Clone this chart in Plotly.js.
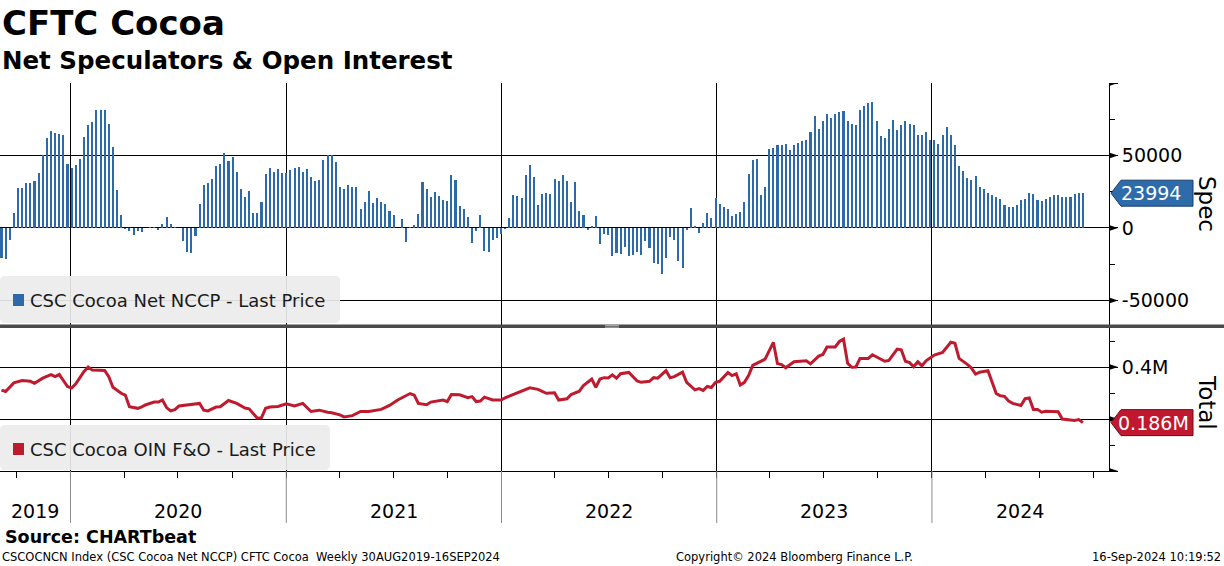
<!DOCTYPE html>
<html><head><meta charset="utf-8">
<script src="https://cdn.plot.ly/plotly-3.0.1.min.js"></script>
<style>html,body{margin:0;padding:0;background:#fff;}#chart{width:1224px;height:566px;}</style>
</head><body><div id="chart"></div>
<script>
// ---------------- DATA ----------------
const firstWeek = '2019-09-06';           // weekly (Friday) release dates
const specValues = [
-20900,-21600,-8000,10100,27700,27700,31200,31200,32600,38000,
50200,62400,67200,65600,64900,63800,43800,41700,43600,47700,
62600,71100,73200,81400,81400,81400,71800,56000,26400,9200,
-900,-2300,-5000,-2300,-3000,300,700,700,-1600,3000,
7800,3000,700,200,-9200,
-16700,-17400,-5700,16700,29800,31200,33900,42900,44300,51800,
46300,49100,38800,27100,21600,25700,10600,10600,18100,37400,
41500,38800,40800,38100,38100,40100,41500,42200,38800,40800,
35300,32600,33300,47000,50500,50500,45600,28400,27100,29800,
28400,28400,13300,18100,25700,
17400,20900,18100,16700,11900,9200,300,6400,-9900,900,
2300,9900,31900,27100,21600,25000,22200,19500,18800,36700,
33300,15400,13300,7800,-10600,-2300,9200,-16100,-16700,-8500,
-7100,-4400,-900,7100,22900,22200,20900,36700,43600,35300,
16100,23600,24300,23600,33900,
32600,36700,32600,18100,31900,11900,9200,-1600,1600,8500,
-11200,-4400,-5000,-19500,-17400,-18100,-13300,-19500,-18800,-16700,
-18800,-9200,-14000,-24300,-25000,-31900,-20900,-6400,-8500,-22900,
-27700,-1600,14000,1600,-3700,3700,10600,7100,20900,16700,
14700,13300,8500,9900,
11200,18100,37400,47000,47700,22900,28400,54600,55300,57300,
57300,58000,53900,57300,58700,60100,60800,66300,77300,68300,
73900,78700,75900,78700,80000,80700,73900,71800,71100,81400,
84200,86200,86900,73900,63500,62200,68300,74500,67700,71100,
73900,71800,71100,64200,64200,
66300,60800,60800,58000,64200,69700,64200,57300,42900,39400,
34600,33300,36000,28400,27100,24300,22900,21600,20200,16100,
14700,14700,16100,19500,20200,24300,23600,19500,18800,20200,
21600,22900,22900,21600,21600,21600,23600,24300,23994
];
// open interest, read at selected weeks (week index from firstWeek)
const oiWeeks = [0,1,3,4,5,7,8,10,12,13,14,15,16,17,18,20,21,22,25,26,27,29,30,31,33,34,35,37,38,39,40,41,42,43,45,46,48,49,50,52,53,55,57,59,60,62,63,64,65,67,68,69,71,73,75,77,79,80,82,83,85,87,89,92,94,96,99,100,101,103,104,106,107,108,109,111,113,114,115,116,117,119,121,122,124,126,128,130,131,132,134,135,137,138,140,141,143,144,145,146,147,148,149,150,152,154,155,157,158,159,161,162,163,165,166,168,169,170,171,172,173,174,176,177,178,179,180,181,182,184,185,187,188,189,190,192,194,195,196,198,199,200,202,203,204,205,206,207,208,210,211,212,214,215,217,218,219,220,221,222,223,224,225,226,228,229,230,231,232,234,235,236,237,239,240,241,242,243,244,245,247,248,249,250,251,252,253,255,256,257,259,260,261,262];
const oiValues = [311000,306000,339000,344000,348000,345000,337000,357000,371000,363000,371000,348000,325000,319000,335000,383000,400000,388000,387000,363000,322000,299000,292000,247000,241000,247000,255000,265000,265000,273000,244000,231000,236000,250000,255000,255000,260000,234000,231000,246000,247000,271000,260000,242000,239000,203000,205000,241000,246000,248000,252000,258000,250000,260000,229000,234000,226000,224000,216000,208000,213000,229000,229000,237000,252000,273000,298000,292000,260000,255000,265000,269000,273000,267000,294000,293000,282000,286000,267000,269000,284000,273000,273000,281000,294000,305000,320000,314000,305000,299000,301000,273000,278000,294000,307000,329000,354000,322000,354000,359000,358000,370000,357000,374000,379000,346000,341000,345000,359000,357000,386000,359000,363000,380000,341000,312000,317000,310000,325000,321000,341000,345000,379000,367000,374000,331000,341000,367000,406000,420000,430000,495000,413000,409000,397000,420000,424000,424000,412000,442000,448000,477000,477000,498000,507000,414000,399000,400000,433000,433000,447000,438000,422000,425000,469000,466000,422000,417000,401000,420000,405000,424000,435000,446000,456000,477000,495000,491000,433000,410000,396000,373000,380000,386000,341000,298000,289000,287000,269000,260000,252000,278000,281000,237000,237000,226000,230000,230000,228000,200000,195000,194000,198000,186000];
const seriesNames = ['CSC Cocoa Net NCCP - Last Price', 'CSC Cocoa OIN F&O - Last Price'];
const panelNames = ['Spec', 'Total'];
const yearLabels = ['2019','2020','2021','2022','2023','2024'];
const yearStarts = ['2020-01-01','2021-01-01','2022-01-01','2023-01-01','2024-01-01'];
const specTickVals = [-50000, 0, 50000, 100000];
const specTickText = ['-50000', '0', '50000', ''];
const oiTickVals = [0, 200000, 400000];
const oiTickText = ['', '', '0.4M'];

// ---------------- HELPERS ----------------
function weekDate(k){ const d = new Date(firstWeek + 'T00:00:00Z'); d.setUTCDate(d.getUTCDate() + 7*k); return d.toISOString().slice(0,10); }
const specDates = specValues.map((v,i) => weekDate(i));
const oiDates = oiWeeks.map(k => weekDate(k));

const W = 1224, H = 566, ML = 0, MR = 115, MT = 83, MB = 95;
const PW = W - ML - MR, PH = H - MT - MB;
const px = x => (x - ML) / PW;
const py = y => (H - MB - y) / PH;

const xRange = ['2019-09-03 12:00', '2024-10-27 06:00'];
const BLUE = '#2d6aa9', RED = '#bf1b2f';
const FONT = 'DejaVu Sans';

// quarterly minor ticks
const quarterTicks = [];
for (let y = 2019; y <= 2024; y++) for (const m of ['01','04','07','10']) quarterTicks.push(y + '-' + m + '-01');

// mid dates of visible year segments for labels
const bounds = [xRange[0]].concat(yearStarts).concat([xRange[1]]);
const yearMid = yearLabels.map((t,i) => { const a = new Date(bounds[i].replace(' ','T')+'Z').getTime(), b = new Date(bounds[i+1].replace(' ','T')+'Z').getTime(); return new Date((a+b)/2).toISOString().slice(0,10); });

const traces = [
  { type:'bar', x: specDates, y: specValues, xaxis:'x', yaxis:'y', name: seriesNames[0],
    marker:{color: BLUE, line:{width:0}}, width: 3.5*86400000, hoverinfo:'skip' },
  { type:'scatter', mode:'lines', x: oiDates, y: oiValues, xaxis:'x', yaxis:'y2', name: seriesNames[1],
    line:{color: RED, width: 3}, hoverinfo:'skip' }
];

const shapes = [];
const annotations = [];

// tick arrow heads
function arrow(yref, v){ shapes.push({type:'path', xref:'paper', yref: yref, xsizemode:'pixel', ysizemode:'pixel', xanchor:1, yanchor:v, path:'M 0 -3 L 9 0 L 0 3 Z', fillcolor:'#000', line:{width:0}}); }
specTickVals.forEach(v => arrow('y', v));
oiTickVals.forEach(v => arrow('y2', v));

// year separators in x-axis band
yearStarts.forEach(d => shapes.push({type:'line', xref:'x', yref:'paper', x0:d, x1:d, y0:py(471), y1:py(523), line:{color:'#8a8a8a', width:1}}));

// panel separator
shapes.push({type:'rect', xref:'paper', yref:'paper', x0:0, x1:W/PW, y0:py(328), y1:py(324.5), fillcolor:'#4a4a4a', line:{width:0}});
shapes.push({type:'line', xref:'paper', yref:'paper', x0:px(605), x1:px(619), y0:py(325.6), y1:py(325.6), line:{color:'#b0b0b0', width:1}});
shapes.push({type:'line', xref:'paper', yref:'paper', x0:px(605), x1:px(619), y0:py(327.2), y1:py(327.2), line:{color:'#b0b0b0', width:1}});

// legend boxes
function roundRect(x0,y0,x1,y1,r){
  const rx = r/PW, ry = r/PH;
  const X0=px(x0), X1=px(x1), Y0=py(y1), Y1=py(y0);
  return `M ${X0+rx} ${Y0} L ${X1-rx} ${Y0} Q ${X1} ${Y0} ${X1} ${Y0+ry} L ${X1} ${Y1-ry} Q ${X1} ${Y1} ${X1-rx} ${Y1} L ${X0+rx} ${Y1} Q ${X0} ${Y1} ${X0} ${Y1-ry} L ${X0} ${Y0+ry} Q ${X0} ${Y0} ${X0+rx} ${Y0} Z`;
}
shapes.push({type:'path', xref:'paper', yref:'paper', path: roundRect(0,276,340,323,5), fillcolor:'rgba(236,236,236,0.92)', line:{width:0}});
shapes.push({type:'path', xref:'paper', yref:'paper', path: roundRect(0,425,330,470,5), fillcolor:'rgba(236,236,236,0.92)', line:{width:0}});
shapes.push({type:'rect', xref:'paper', yref:'paper', x0:px(13), x1:px(24), y0:py(306), y1:py(294), fillcolor:BLUE, line:{width:0}});
shapes.push({type:'rect', xref:'paper', yref:'paper', x0:px(13), x1:px(24), y0:py(455), y1:py(443), fillcolor:RED, line:{width:0}});
annotations.push({xref:'paper', yref:'paper', x:px(28), y:py(300), xanchor:'left', yanchor:'middle', text: seriesNames[0], showarrow:false, font:{family:FONT, size:18, color:'#1a1a1a'}});
annotations.push({xref:'paper', yref:'paper', x:px(28), y:py(449), xanchor:'left', yanchor:'middle', text: seriesNames[1].replace('&','&amp;'), showarrow:false, font:{family:FONT, size:18, color:'#1a1a1a'}});

// last value labels
const lastSpec = specValues[specValues.length-1], lastOi = oiValues[oiValues.length-1];
const tagPath = 'M 2 0 L 12 13 L 84 13 L 84 -13 L 12 -13 Z';
shapes.push({type:'path', xref:'paper', yref:'y', xsizemode:'pixel', ysizemode:'pixel', xanchor:1, yanchor:lastSpec, path: tagPath, fillcolor:'#2e6bab', line:{color:'#1b3f6a', width:1}});
shapes.push({type:'path', xref:'paper', yref:'y2', xsizemode:'pixel', ysizemode:'pixel', xanchor:1, yanchor:lastOi, path: tagPath, fillcolor:'#c0182f', line:{color:'#6a0d19', width:1}});
annotations.push({xref:'paper', yref:'y', x:px(1151), y:lastSpec, xanchor:'center', yanchor:'middle', text:String(lastSpec), showarrow:false, font:{family:FONT, size:19, color:'#fff'}});
annotations.push({xref:'paper', yref:'y2', x:px(1153), y:lastOi, xanchor:'center', yanchor:'middle', text:(lastOi/1e6).toFixed(3)+'M', showarrow:false, font:{family:FONT, size:19, color:'#fff'}});

// panel names
annotations.push({xref:'paper', yref:'paper', x:px(1207), y:py(204), xanchor:'center', yanchor:'middle', text:panelNames[0], textangle:90, showarrow:false, font:{family:FONT, size:23, color:'#000'}});
annotations.push({xref:'paper', yref:'paper', x:px(1207), y:py(402), xanchor:'center', yanchor:'middle', text:panelNames[1], textangle:90, showarrow:false, font:{family:FONT, size:23, color:'#000'}});

// year labels
yearLabels.forEach((t,i) => annotations.push({xref:'x', yref:'paper', x:yearMid[i], y:py(511), xanchor:'center', yanchor:'middle', text:t, showarrow:false, font:{family:FONT, size:19, color:'#000'}}));

// subtitle & footer
annotations.push({xref:'paper', yref:'paper', x:px(0), y:py(60), xanchor:'left', yanchor:'middle', text:'Net Speculators &amp; Open Interest', showarrow:false, font:{family:FONT, size:24.5, weight:'bold', color:'#000'}});
annotations.push({xref:'paper', yref:'paper', x:px(3), y:py(537), xanchor:'left', yanchor:'middle', text:'Source: CHARTbeat', showarrow:false, font:{family:FONT, size:17.5, weight:'bold', color:'#000'}});
annotations.push({xref:'paper', yref:'paper', x:px(0), y:py(557), xanchor:'left', yanchor:'middle', text:'CSCOCNCN Index (CSC Cocoa Net NCCP) CFTC Cocoa\u00a0 Weekly 30AUG2019-16SEP2024', showarrow:false, font:{family:FONT, size:11.5, color:'#000'}});
annotations.push({xref:'paper', yref:'paper', x:px(794), y:py(557), xanchor:'center', yanchor:'middle', text:'Copyright\u00a9 2024 Bloomberg Finance L.P.', showarrow:false, font:{family:FONT, size:11.5, color:'#000'}});
annotations.push({xref:'paper', yref:'paper', x:px(1223), y:py(557), xanchor:'right', yanchor:'middle', text:'16-Sep-2024 10:19:52', showarrow:false, font:{family:FONT, size:11.5, color:'#000'}});

const layout = {
  width: W, height: H,
  margin: {l:ML, r:MR, t:MT, b:MB, pad:0},
  paper_bgcolor:'#fff', plot_bgcolor:'#fff',
  showlegend:false, bargap:0,
  font:{family:FONT, size:19, color:'#000'},
  title:{text:'CFTC Cocoa', xref:'container', yref:'container', x:2/W, xanchor:'left', y:1-23/H, yanchor:'middle',
         font:{family:FONT, size:34, weight:'bold', color:'#000'}},
  xaxis:{type:'date', range:xRange, anchor:'y2', tickmode:'array', tickvals:yearStarts, showticklabels:false, ticks:'',
         showgrid:true, gridcolor:'#000', gridwidth:1, showline:true, linecolor:'#000', linewidth:1, zeroline:false,
         minor:{tickmode:'array', tickvals:quarterTicks, ticks:'outside', ticklen:6, tickcolor:'#000', tickwidth:1, showgrid:false}},
  yaxis:{domain:[py(324.5),1], range:[-66600,100000], side:'right', anchor:'x', tickmode:'array', tickvals:specTickVals, ticktext:specTickText,
         ticks:'outside', ticklen:8, tickcolor:'#000', tickwidth:1, showgrid:true, gridcolor:'#000', gridwidth:1,
         showline:true, linecolor:'#000', linewidth:1, zeroline:false, tickfont:{family:FONT, size:19, color:'#000'},
         minor:{tickmode:'linear', tick0:0, dtick:25000, ticks:'outside', ticklen:5, tickcolor:'#000', showgrid:false}},
  yaxis2:{domain:[0,py(328)], range:[0,550000], side:'right', anchor:'x', tickmode:'array', tickvals:oiTickVals, ticktext:oiTickText,
         ticks:'outside', ticklen:8, tickcolor:'#000', tickwidth:1, showgrid:true, gridcolor:'#000', gridwidth:1,
         showline:true, linecolor:'#000', linewidth:1, zeroline:false, tickfont:{family:FONT, size:19, color:'#000'},
         minor:{tickmode:'linear', tick0:0, dtick:100000, ticks:'outside', ticklen:5, tickcolor:'#000', showgrid:false}},
  shapes: shapes,
  annotations: annotations
};

Plotly.newPlot('chart', traces, layout, {staticPlot:true, displayModeBar:false});
</script>
</body></html>
